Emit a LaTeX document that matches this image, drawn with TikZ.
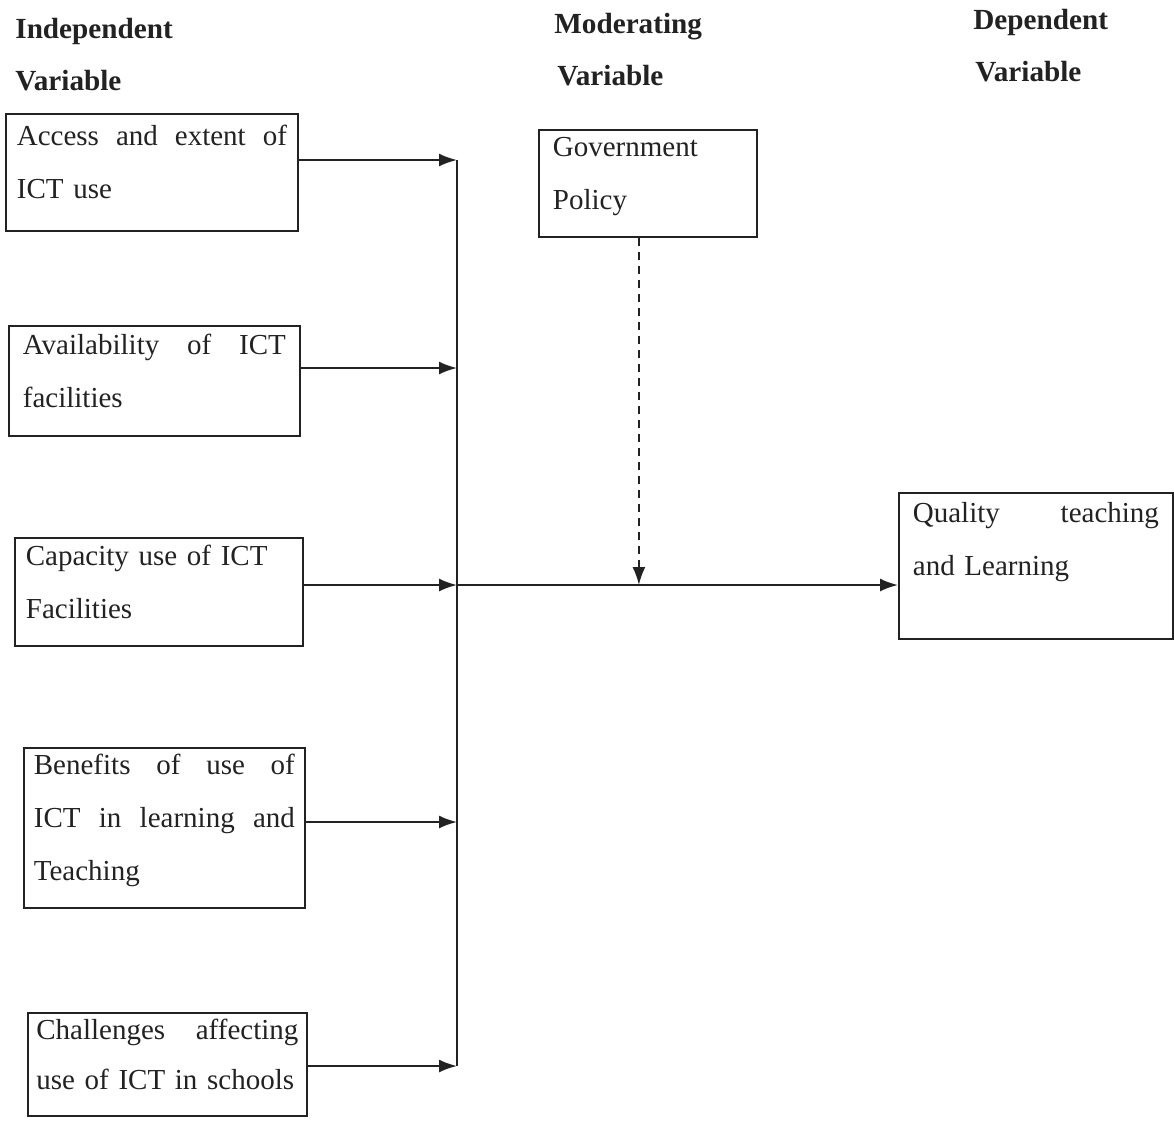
\documentclass[tikz,border=0pt]{standalone}
\usepackage{fontspec}
\setmainfont{Liberation Serif}
\usetikzlibrary{arrows.meta, positioning}

\definecolor{ink}{HTML}{222222}

\newcommand{\tst}[1][13.5pt]{\rule{0pt}{#1}}
\newcommand{\bst}[1][13.5pt]{\rule[-#1]{0pt}{#1}}
\newcommand{\jline}[1]{\leavevmode{\spaceskip=0.25em plus 1fil\relax\hbox to \hsize{#1}}}

\tikzset{
	var/.style={draw=ink, line width=0.9pt, inner xsep=0pt, inner ysep=0pt, anchor=north west,
		align=left, text=ink, font=\fontsize{14.5pt}{26.5pt}\selectfont},
	head/.style={anchor=base west, inner sep=0pt, text=ink, font=\fontsize{14.6pt}{18pt}\selectfont\bfseries},
	arr/.style={-{Latex[length=9pt,width=6.5pt]}, line width=1pt, draw=ink},
}

\begin{document}
\begin{tikzpicture}[x=0.5pt, y=-0.5pt]
	\useasboundingbox (0,0) rectangle (1174,1131);

	% column headings
	\node[head] (indep)		at (15,38)	{Independent};
	\node[head] (indepvar)	at (15,90)	{Variable};
	\node[head] (mod)		at (554,33)	{Moderating};
	\node[head] (modvar)	at (557,85)	{Variable};
	\node[head] (dep)		at (973,29)	{Dependent};
	\node[head] (depvar)	at (975,81)	{Variable};

	% independent variables
	\node[var, minimum width=146pt, minimum height=58.5pt, text width=135pt]	(access)	at (5,113)
		{\tst\jline{Access and extent of}\\ ICT use\bst};
	\node[var, minimum width=145.5pt, minimum height=55pt, text width=131.5pt]	(avail)
		[below=46.6pt of access.south west, anchor=north west, xshift=1.5pt]
		{\tst\jline{Availability of ICT}\\ facilities\bst};
	\node[var, minimum width=144pt, minimum height=54pt, text width=133pt]	(capacity)
		[below=50.1pt of avail.south west, anchor=north west, xshift=3pt]
		{\tst Capacity use of ICT\\ Facilities\bst};
	\node[var, minimum width=140.5pt, minimum height=80pt, text width=130.5pt]	(benefit)
		[below=50.1pt of capacity.south west, anchor=north west, xshift=4.5pt]
		{\tst\jline{Benefits of use of}\\ \jline{ICT in learning and}\\ Teaching\bst};
	\node[var, minimum width=139.5pt, minimum height=51.5pt, text width=131pt,
		font=\fontsize{14.5pt}{25pt}\selectfont]	(challenge)
		[below=51.6pt of benefit.south west, anchor=north west, xshift=2pt]
		{\tst[13pt]\jline{Challenges affecting}\\ use of ICT in schools\bst[13pt]};

	% moderating and dependent variables
	\node[var, minimum width=109pt, minimum height=53.5pt, text width=95pt]	(gov)	at (538,129)
		{\tst Government\\ Policy\bst};
	\node[var, minimum width=137pt, minimum height=73pt, text width=123pt]	(quality)	at (898,492)
		{\tst[15pt]\jline{Quality teaching}\\ and Learning\bst[31.5pt]};

	% joints on the collecting line
	\coordinate (jaccess)		at (457,160);
	\coordinate (javail)		at (457,368);
	\coordinate (jcapacity)		at (457,585);
	\coordinate (jbenefit)		at (457,822);
	\coordinate (jchallenge)	at (457,1066);
	\coordinate (govtap)		at ([xshift=-4.5pt]gov.south);

	\draw[line width=1pt, ink] (jaccess) -- (jchallenge);
	\draw[arr] (access.east |- jaccess)			-- (jaccess);
	\draw[arr] (avail.east |- javail)			-- (javail);
	\draw[arr] (capacity.east |- jcapacity)		-- (jcapacity);
	\draw[arr] (benefit.east |- jbenefit)		-- (jbenefit);
	\draw[arr] (challenge.east |- jchallenge)	-- (jchallenge);
	\draw[arr] (jcapacity)	-- (quality.west |- jcapacity);
	\draw[arr, dash pattern=on 4pt off 3pt] (govtap) -- (govtap |- jcapacity);
\end{tikzpicture}
\end{document}
